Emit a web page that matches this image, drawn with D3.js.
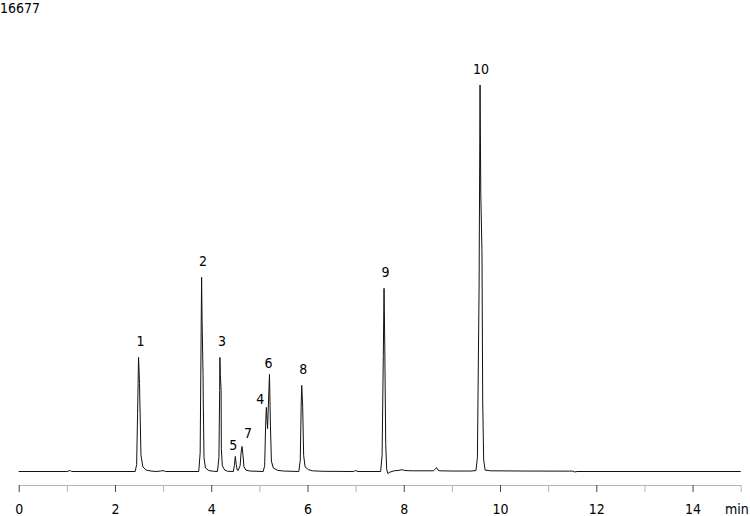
<!DOCTYPE html>
<html>
<head>
<meta charset="utf-8">
<script src="https://cdn.jsdelivr.net/npm/d3@7"></script>
<style>
  body { margin: 0; background: #fff; }
  svg text { font-family: 'DejaVu Sans Condensed', 'DejaVu Sans', sans-serif; font-stretch: condensed; font-size: 14px; fill: #000; }
</style>
</head>
<body>
<div id="chart"></div>
<script>
// trace (time in min, signal in counts)
var traceTime = [
  0, 1.0, 1.05, 1.07, 1.1, 2.42,
  2.45, 2.47, 2.49, 2.51, 2.54, 2.58, 2.65, 2.75, 2.85,
  2.95, 3.0, 3.05, 3.74,
  3.77, 3.79, 3.80, 3.81, 3.83, 3.835, 3.85, 3.88, 3.95, 4.05, 4.13,
  4.16, 4.175, 4.18, 4.19, 4.205, 4.21, 4.23, 4.28, 4.34, 4.46,
  4.48, 4.50, 4.52, 4.54, 4.56,
  4.60, 4.62, 4.64, 4.66, 4.68, 4.72, 4.8, 5.08,
  5.11, 5.13, 5.145, 5.17, 5.19, 5.21, 5.23, 5.25, 5.29, 5.38, 5.5, 5.82,
  5.85, 5.87, 5.88, 5.90, 5.92, 5.95, 6.02, 6.1, 6.3, 6.95,
  7.0, 7.05, 7.52,
  7.55, 7.575, 7.59, 7.605, 7.625, 7.645, 7.67, 7.71, 7.8, 7.9, 7.96, 8.02, 8.2, 8.5,
  8.62, 8.66, 8.68, 8.71, 8.75, 9.0, 9.4, 9.5,
  9.53, 9.565, 9.585, 9.60, 9.625, 9.64, 9.66, 9.69, 9.8, 10.5, 11.45, 11.5, 11.55, 11.6, 15.0
];
var traceSignal = [
  0, 0, 30, 40, 0, 0,
  300, 2500, 4925, 3800, 700, 200, 60, 20, 0,
  20, 40, 0, 0,
  800, 6000, 8380, 6500, 4150, 3000, 600, 150, 40, 10, 0,
  600, 3500, 4925, 4150, 3500, 1000, 250, 60, 10, 0,
  250, 650, 300, 60, 50,
  250, 800, 1080, 700, 200, 60, 20, 0,
  250, 2000, 2765, 1850, 3000, 4190, 2000, 450, 150, 50, 20, 0,
  500, 3000, 3715, 2800, 700, 200, 80, 30, 10, 0,
  40, 0, 0,
  700, 5000, 7905, 5500, 1200, 100, -90, -30, 30, 50, 80, 40, 30, 30,
  30, 120, 170, 60, 30, 20, 20, 40,
  600, 8000, 16677, 12000, 9460, 3000, 500, 60, 30, 20, 15, 20, -20, 0, 0
];

var peakNames = ['1', '2', '3', '4', '5', '6', '7', '8', '9', '10'];
var peakTimes = [2.49, 3.80, 4.18, 5.145, 4.50, 5.21, 4.64, 5.88, 7.59, 9.585];
var peakHeights = [4925, 8380, 4925, 2765, 650, 4190, 1080, 3715, 7905, 16677];

var tickValues = d3.range(0, 16, 1);
var tickLabels = ['0', '', '2', '', '4', '', '6', '', '8', '', '10', '', '12', '', '14', ''];
var maxLabel = '16677';
var unitLabel = 'min';

// Chart Setup
var width = 750;
var height = 516;
var xScale = d3.scaleLinear().domain([0, 15]).range([18.7, 740.7]);
var yScale = d3.scaleLinear().domain([0, 16677]).range([471.5, 85]);

var svg = d3.select('#chart')
  .append('svg')
  .attr('width', width)
  .attr('height', height);

// Trace
var line = d3.line()
  .x(function (d) { return xScale(traceTime[d]); })
  .y(function (d) { return yScale(traceSignal[d]); });

svg.append('path')
  .datum(d3.range(traceTime.length))
  .attr('d', line)
  .attr('fill', 'none')
  .attr('stroke', '#111')
  .attr('stroke-width', 1);

// Peak labels (small nudges so they sit like the original)
var labelDx = { '1': 2, '2': 1.5, '3': 2, '4': -6, '5': -2, '6': -1, '7': 6, '8': 1.5, '9': 1.5, '10': 1 };
var labelDy = { '4': 8, '5': 5, '6': 5, '7': 3 };

svg.selectAll('text.peak')
  .data(peakNames)
  .enter()
  .append('text')
  .attr('class', 'peak')
  .attr('text-anchor', 'middle')
  .attr('x', function (d, i) { return xScale(peakTimes[i]) + labelDx[d]; })
  .attr('y', function (d, i) { return yScale(peakHeights[i]) - 11 + (labelDy[d] || 0); })
  .text(function (d) { return d; });

// X-Axis
var xAxis = d3.axisBottom(xScale)
  .tickValues(tickValues)
  .tickSize(7)
  .tickSizeOuter(0)
  .tickFormat(function (d, i) { return tickLabels[i]; });

var axis = svg.append('g')
  .attr('transform', 'translate(0,485)')
  .call(xAxis);

axis.select('.domain').attr('stroke', '#b5b5b5');
axis.selectAll('.tick line')
  .attr('stroke', function (d) { return d % 2 === 0 ? '#444' : '#b5b5b5'; });
axis.selectAll('.tick text')
  .attr('y', 19)
  .attr('dy', '0.71em')
  .style('font-size', '14px');

svg.append('text')
  .attr('x', 725)
  .attr('y', 514)
  .text(unitLabel);

// Max signal
svg.append('text')
  .attr('x', 0)
  .attr('y', 12.5)
  .text(maxLabel);
</script>
</body>
</html>
